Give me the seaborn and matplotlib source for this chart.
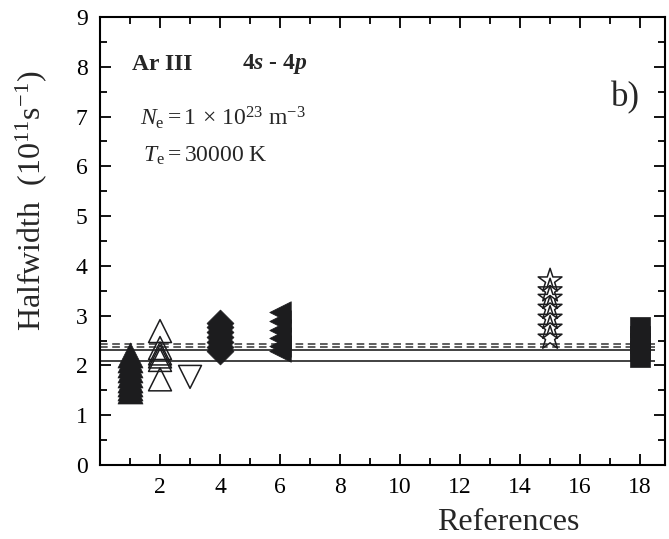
import matplotlib
matplotlib.use("Agg")
import matplotlib.pyplot as plt
from matplotlib.ticker import MultipleLocator
import seaborn as sns
import pandas as pd

# Stark halfwidths (10^11 s^-1) per reference number
ref1_filled_up = [1.48, 1.55, 1.62, 1.70, 1.80, 1.90, 2.00, 2.10, 2.20]
ref2_open_up = [2.69, 2.35, 2.24, 2.18, 2.11, 1.72]
ref3_open_down = [1.77]
ref4_diamond = [2.28, 2.38, 2.48, 2.58, 2.68, 2.78, 2.86]
ref6_left = [2.28, 2.40, 2.55, 2.72, 2.90, 3.08]
ref15_star = [2.55, 2.75, 2.95, 3.15, 3.35, 3.50, 3.70]
ref18_square = [2.17, 2.30, 2.45, 2.60, 2.77]

# Theoretical/average levels
solid_levels = [2.09, 2.31]
dashed_levels = [2.375, 2.44]

x_ticks = [2, 4, 6, 8, 10, 12, 14, 16, 18]
y_ticks = [0, 1, 2, 3, 4, 5, 6, 7, 8, 9]

sns.set_theme(style="ticks")
plt.rcParams["font.family"] = ["Liberation Serif", "DejaVu Serif"]
plt.rcParams["mathtext.fontset"] = "custom"
plt.rcParams["mathtext.rm"] = "Liberation Serif"
plt.rcParams["mathtext.it"] = "Liberation Serif:italic"
plt.rcParams["mathtext.bf"] = "Liberation Serif:bold"
plt.rcParams["mathtext.bfit"] = "Liberation Serif:bold:italic"

fig = plt.figure(figsize=(6.69, 5.39), dpi=100)
ax = fig.add_axes([0.1495, 0.1373, 0.8445, 0.8312])

ink = "#1c1c1e"

groups = [
    (1, ref1_filled_up, "^", 18, True),
    (2, ref2_open_up, "^", 16.5, False),
    (3, ref3_open_down, "v", 16.5, False),
    (4, ref4_diamond, "D", 13.7, True),
    (6, ref6_left, "<", 15.5, True),
    (15, ref15_star, "*", 18, False),
    (18, ref18_square, "s", 14.4, True),
]

for ref, vals, mk, ms, filled in groups:
    df = pd.DataFrame({"ref": [ref] * len(vals), "hw": vals})
    if filled:
        sns.scatterplot(data=df, x="ref", y="hw", marker=mk, s=ms ** 2,
                        color=ink, edgecolor=ink, linewidth=0.5, ax=ax,
                        zorder=3)
    else:
        sns.scatterplot(data=df, x="ref", y="hw", marker=mk, s=ms ** 2,
                        facecolor="none", edgecolor=ink, linewidth=1.1,
                        ax=ax, zorder=3)

ax.hlines(solid_levels, 0, 18.5, colors="#333333", linewidth=1.3, zorder=2)
ax.hlines(dashed_levels, 0, 18.5, colors="#333333", linewidth=1.1,
          linestyles=[(0, (5, 3))], zorder=2)

ax.set_xlim(0, 18.83)
ax.set_ylim(0, 9)
ax.set_xticks(x_ticks)
ax.set_yticks(y_ticks)
ax.xaxis.set_minor_locator(MultipleLocator(1))
ax.yaxis.set_minor_locator(MultipleLocator(0.5))
ax.tick_params(which="both", direction="in", top=True, right=True,
               colors="black", labelsize=17, width=1.3)
ax.tick_params(which="major", length=8, pad=9)
ax.tick_params(which="minor", length=5)
for sp in ax.spines.values():
    sp.set_linewidth(1.5)
    sp.set_color("black")

ax.set_xlabel("References", fontsize=23)
ax.xaxis.set_label_coords(0.722, -0.095)
ax.set_ylabel(r"Halfwidth  (10$^{11}$s$^{-1}$)", fontsize=23)
ax.yaxis.set_label_coords(-0.09, 0.59)

ax.text(1.07, 8.05, "Ar III", fontsize=17, fontweight="bold",
        va="center", ha="left")
ax.text(4.73, 8.05, r"4$\mathbfit{s}$ - 4$\mathbfit{p}$",
        fontsize=17, fontweight="bold", va="center", ha="left")
ax.text(1.33, 6.97,
        r"$N_{\mathrm{e}} = 1\,\times\,10^{23}\ \mathrm{m}^{-3}$",
        fontsize=17, va="center", ha="left")
ax.text(1.43, 6.22, r"$T_{\mathrm{e}} = 30000\ \mathrm{K}$",
        fontsize=17, va="center", ha="left")
ax.text(17.5, 7.37, "b)", fontsize=25, va="center", ha="center")

fig.savefig("out.png", dpi=100)
